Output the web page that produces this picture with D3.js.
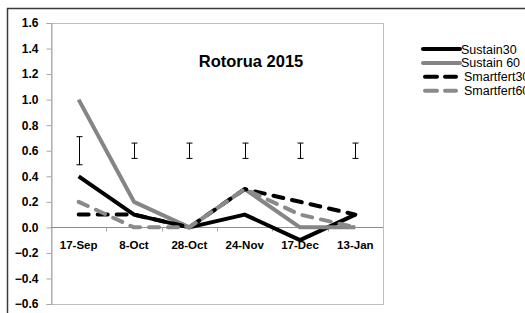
<!DOCTYPE html>
<html>
<head>
<meta charset="utf-8">
<script src="https://cdn.jsdelivr.net/npm/d3@7"></script>
<style>
  body { margin: 0; background: #fff; }
  svg { display: block; font-family: "Liberation Sans", Arial, sans-serif; }
</style>
</head>
<body>
<script>
const dates = ["17-Sep", "8-Oct", "28-Oct", "24-Nov", "17-Dec", "13-Jan"];
const sustain30 = [0.4, 0.1, 0.0, 0.1, -0.1, 0.1];
const sustain60 = [1.0, 0.2, 0.0, 0.3, 0.0, 0.0];
const smartfert30 = [0.1, 0.1, 0.0, 0.3, 0.2, 0.1];
const smartfert60 = [0.2, 0.0, 0.0, 0.3, 0.1, 0.0];
const errLow = [0.49, 0.54, 0.54, 0.54, 0.54, 0.54];
const errHigh = [0.71, 0.66, 0.66, 0.66, 0.66, 0.66];
const yTicks = [-0.6, -0.4, -0.2, 0.0, 0.2, 0.4, 0.6, 0.8, 1.0, 1.2, 1.4, 1.6];

const series = [
    { name: "Sustain30", values: sustain30, color: "#000", dash: null },
    { name: "Sustain 60", values: sustain60, color: "#858585", dash: null },
    { name: "Smartfert30", values: smartfert30, color: "#000", dash: "10,9" },
    { name: "Smartfert60", values: smartfert60, color: "#8a8a8a", dash: "10,9" }
];

const width = 525, height = 313;
const plot = { left: 51, right: 383, top: 23, bottom: 304 };

const svg = d3.select("body").append("svg")
    .attr("width", width)
    .attr("height", height);

// outer chart border (runs off the picture at right and bottom)
svg.append("path")
    .attr("d", "M7.5," + height + "V8.5H" + width)
    .attr("fill", "none")
    .attr("stroke", "#3a3a3a")
    .attr("stroke-width", 1.5);

const x = d3.scaleBand()
    .domain(dates)
    .range([plot.left, plot.right]);
const y = d3.scaleLinear()
    .domain([-0.6, 1.6])
    .range([plot.bottom, plot.top]);

// plot area border
svg.append("rect")
    .attr("x", plot.left + 0.5).attr("y", plot.top + 0.5)
    .attr("width", plot.right - plot.left).attr("height", plot.bottom - plot.top)
    .attr("fill", "none")
    .attr("stroke", "#bdbdbd");

// y axis
const yAxis = d3.axisLeft(y)
    .tickValues(yTicks)
    .tickSize(5)
    .tickFormat(d3.format(".1f"));
const gy = svg.append("g")
    .attr("transform", "translate(" + (plot.left + 0.5) + ",0)")
    .call(yAxis);
gy.select(".domain").attr("stroke", "#a6a6a6");
gy.selectAll(".tick line").attr("stroke", "#a6a6a6");
gy.selectAll(".tick text")
    .attr("x", -13)
    .attr("fill", "#000")
    .style("font-size", "12px")
    .style("font-weight", "bold");

// x axis on zero line
const xAxis = d3.axisBottom(x).tickSize(0).tickPadding(13);
const gx = svg.append("g")
    .attr("transform", "translate(0," + (Math.round(y(0)) + 0.5) + ")")
    .call(xAxis);
gx.select(".domain").attr("stroke", "#8c8c8c").attr("d", "M" + plot.left + ",0H" + plot.right);
gx.selectAll(".tick text")
    .attr("fill", "#000")
    .style("font-size", "11.5px")
    .style("font-weight", "bold");
// boundary tick marks
gx.selectAll(".bound")
    .data(dates.slice(1))
    .enter()
    .append("line")
    .attr("x1", d => Math.round(x(d)) + 0.5)
    .attr("x2", d => Math.round(x(d)) + 0.5)
    .attr("y1", 0).attr("y2", 4)
    .attr("stroke", "#a6a6a6");

// error bars
const cx = d => x(d) + x.bandwidth() / 2;
const eb = svg.append("g").attr("stroke", "#000").attr("stroke-width", 1);
dates.forEach((d, i) => {
    const xc = Math.round(cx(d)) + 0.5;
    eb.append("line").attr("x1", xc).attr("x2", xc).attr("y1", y(errLow[i])).attr("y2", y(errHigh[i]));
    eb.append("line").attr("x1", xc - 3).attr("x2", xc + 3).attr("y1", y(errLow[i])).attr("y2", y(errLow[i]));
    eb.append("line").attr("x1", xc - 3).attr("x2", xc + 3).attr("y1", y(errHigh[i])).attr("y2", y(errHigh[i]));
});

// lines
const line = d3.line()
    .x((v, i) => cx(dates[i]))
    .y(v => y(v));
svg.append("g")
    .selectAll("path")
    .data(series)
    .enter()
    .append("path")
    .attr("d", s => line(s.values))
    .attr("fill", "none")
    .attr("stroke", s => s.color)
    .attr("stroke-width", 4)
    .attr("stroke-linejoin", "round")
    .attr("stroke-linecap", s => s.dash ? "round" : "butt")
    .attr("stroke-dasharray", s => s.dash);

// title
svg.append("text")
    .attr("x", 251).attr("y", 67)
    .attr("text-anchor", "middle")
    .style("font-size", "16.5px")
    .style("font-weight", "bold")
    .text("Rotorua 2015");

// legend
const legend = svg.append("g")
    .selectAll("g")
    .data(series)
    .enter()
    .append("g")
    .attr("transform", (s, i) => "translate(0," + (49 + i * 13.9) + ")");
legend.append("line")
    .attr("x1", s => s.dash ? 425 : 423)
    .attr("x2", s => s.dash ? 456 : 460)
    .attr("y1", 0).attr("y2", 0)
    .attr("stroke", s => s.color)
    .attr("stroke-width", 4)
    .attr("stroke-linecap", "round")
    .attr("stroke-dasharray", s => s.dash ? "12,8" : null);
legend.append("text")
    .attr("x", s => s.dash ? 464 : 461)
    .attr("y", 4.5)
    .style("font-size", "12.5px")
    .text(s => s.name);
</script>
</body>
</html>
